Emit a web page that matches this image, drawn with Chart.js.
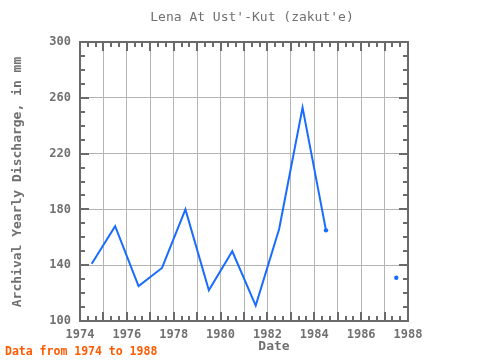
<!DOCTYPE html>
<html>
<head>
<meta charset="utf-8">
<script src="https://cdn.jsdelivr.net/npm/chart.js@4"></script>
<style>
  html, body { margin: 0; padding: 0; background: #fff; }
  #wrap { width: 480px; height: 360px; }
</style>
</head>
<body>
<div id="wrap"><canvas id="chart" width="480" height="360"></canvas></div>
<script>
// values
const years = [1974.5, 1975.5, 1976.5, 1977.5, 1978.5, 1979.5, 1980.5, 1981.5, 1982.5, 1983.5, 1984.5, 1985.5, 1986.5, 1987.5];
const discharge = [141, 168, 125, 138, 180, 122, 150, 111, 166, 253, 165, null, null, 131];
const xTicks = [1974, 1976, 1978, 1980, 1982, 1984, 1986, 1988];
const yTicks = [100, 140, 180, 220, 260, 300];

const mono = '"DejaVu Sans Mono", "Liberation Mono", monospace';
const textGrey = '#707070';

// frame, inward tick marks and the texts around the plot
const decorations = {
    id: 'decorations',
    afterDraw(chart) {
        const ctx = chart.ctx;
        const a = chart.chartArea;
        const xs = chart.scales.x, ys = chart.scales.y;
        ctx.save();
        ctx.strokeStyle = '#6a6a6a';

        // minor/major ticks on x (every 1/3 year, long at each year)
        ctx.lineWidth = 2;
        for (let i = 0; i <= 14 * 3; i++) {
            const v = 1974 + i / 3;
            const px = Math.round(xs.getPixelForValue(v));
            const len = (i % 3 === 0) ? 9 : 5;
            ctx.beginPath();
            ctx.moveTo(px, a.bottom); ctx.lineTo(px, a.bottom - len);
            ctx.moveTo(px, a.top); ctx.lineTo(px, a.top + len);
            ctx.stroke();
        }
        // ticks on y (every 10, long at every 40)
        for (let v = 100; v <= 300; v += 10) {
            const py = Math.round(ys.getPixelForValue(v));
            const len = ((v - 100) % 40 === 0) ? 9 : 5;
            ctx.beginPath();
            ctx.moveTo(a.left, py); ctx.lineTo(a.left + len, py);
            ctx.moveTo(a.right, py); ctx.lineTo(a.right - len, py);
            ctx.stroke();
        }
        ctx.strokeRect(a.left, a.top, a.right - a.left, a.bottom - a.top);

        // title
        ctx.fillStyle = textGrey;
        ctx.textAlign = 'center';
        ctx.textBaseline = 'middle';
        ctx.font = '13px ' + mono;
        ctx.fillText("Lena At Ust'-Kut (zakut'e)", 252, 18);

        // axis titles
        ctx.font = 'bold 13px ' + mono;
        ctx.fillText('Date', 274, 347);
        ctx.save();
        ctx.translate(18, 182);
        ctx.rotate(-Math.PI / 2);
        ctx.fillText('Archival Yearly Discharge, in mm', 0, 0);
        ctx.restore();

        // footer
        ctx.fillStyle = '#ff5a00';
        ctx.textAlign = 'left';
        ctx.font = 'bold 11.5px ' + mono;
        ctx.fillText('Data from 1974 to 1988', 5, 352);
        ctx.restore();
    }
};

function isolatedPoint(c) {
    const i = c.dataIndex;
    return discharge[i - 1] === null || discharge[i + 1] === null;
}

const ctx = document.getElementById('chart').getContext('2d');
new Chart(ctx, {
    type: 'line',
    data: {
        datasets: [{
            data: years.map((y, i) => ({ x: y, y: discharge[i] })),
            borderColor: '#1a6cff',
            backgroundColor: '#1a6cff',
            borderWidth: 2,
            tension: 0,
            spanGaps: false,
            pointStyle: 'circle',
            pointRadius: c => isolatedPoint(c) ? 2.2 : 0,
            pointBorderWidth: 0
        }]
    },
    options: {
        responsive: false,
        animation: false,
        layout: { padding: { top: 42, right: 72, left: 0, bottom: 0 } },
        plugins: {
            legend: { display: false },
            title: { display: false },
            tooltip: { enabled: false }
        },
        scales: {
            x: {
                type: 'linear',
                min: 1974,
                max: 1988,
                afterFit: s => { s.height = 39; },
                afterBuildTicks: s => { s.ticks = Array.from({ length: 15 }, (_, i) => ({ value: 1974 + i })); },
                border: { display: false },
                grid: { color: '#b4b4b4', lineWidth: 1, drawTicks: false },
                ticks: {
                    padding: 7,
                    color: textGrey,
                    font: { family: mono, size: 12, weight: 'bold' },
                    maxRotation: 0,
                    autoSkip: false,
                    callback: v => xTicks.includes(v) ? String(v) : ''
                }
            },
            y: {
                min: 100,
                max: 300,
                afterFit: s => { s.width = 80; },
                afterBuildTicks: s => { s.ticks = yTicks.map(v => ({ value: v })); },
                border: { display: false },
                grid: { color: '#b4b4b4', lineWidth: 1, drawTicks: false },
                ticks: {
                    padding: 9,
                    color: textGrey,
                    font: { family: mono, size: 12, weight: 'bold' },
                    callback: v => String(v)
                }
            }
        }
    },
    plugins: [decorations]
});
</script>
</body>
</html>
